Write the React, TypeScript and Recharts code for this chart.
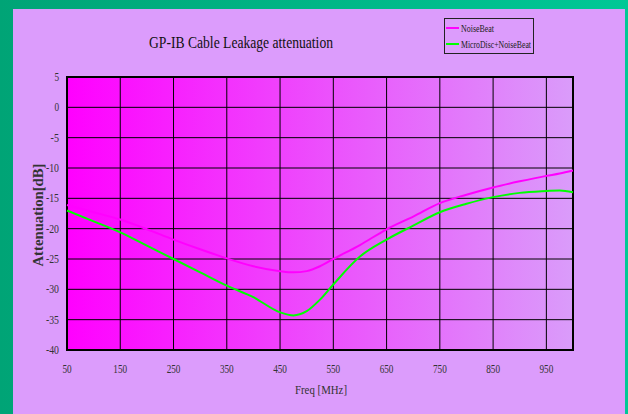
import React from 'react';
import { LineChart, Line, XAxis, YAxis, CartesianGrid, ReferenceArea } from 'recharts';

const freqs = [50, 100, 150, 200, 250, 300, 350, 400, 450, 475, 500, 525, 550, 600, 650, 700, 750, 800, 850, 900, 950, 975, 1000];
const noiseBeat = [-16.1, -17.3, -18.5, -20.1, -21.8, -23.4, -24.9, -26.2, -27.0, -27.2, -27.0, -26.2, -25.0, -22.7, -20.1, -18.0, -15.8, -14.4, -13.2, -12.2, -11.3, -10.9, -10.4];
const microDisc = [-17.0, -18.8, -20.6, -22.8, -25.0, -27.2, -29.4, -31.3, -33.8, -34.3, -33.6, -31.7, -29.2, -24.6, -21.8, -19.5, -17.3, -15.9, -14.8, -14.1, -13.8, -13.7, -14.0];
const xTicks = [50, 150, 250, 350, 450, 550, 650, 750, 850, 950];
const yTicks = [5, 0, -5, -10, -15, -20, -25, -30, -35, -40];

const title = 'GP-IB Cable Leakage attenuation';
const xLabel = 'Freq [MHz]';
const yLabel = 'Attenuation[dB]';
const seriesNames = ['NoiseBeat', 'MicroDisc+NoiseBeat'];
const seriesColors = ['#FF00FF', '#00FF00'];

const data = freqs.map((f, i) => ({ f, a: noiseBeat[i], b: microDisc[i] }));

const FONT = '"Liberation Serif", "Times New Roman", serif';

const labelLen = (s: string) => {
  let n = 0;
  for (const c of s) n += c === '-' ? 3.8 : 4.6;
  return n;
};

const XTick = (props: any) => {
  const { x, y, payload } = props;
  const s = String(payload.value);
  return (
    <text x={x} y={369} textAnchor="middle" dominantBaseline="central" fontSize={12} fontFamily={FONT} fill="#333" textLength={labelLen(s)} lengthAdjust="spacingAndGlyphs">{s}</text>
  );
};

const YTick = (props: any) => {
  const { y, payload } = props;
  const s = String(payload.value);
  return (
    <text x={59} y={y} textAnchor="end" dominantBaseline="central" fontSize={12} fontFamily={FONT} fill="#333" textLength={labelLen(s)} lengthAdjust="spacingAndGlyphs">{s}</text>
  );
};

export default function App() {
  return (
    <div style={{ position: 'fixed', left: 0, top: 0, width: 628, height: 414, overflow: 'hidden', background: 'linear-gradient(to right, #00A476, #00C896)', fontFamily: FONT }}>
      <svg width={0} height={0} style={{ position: 'absolute' }}>
        <defs>
          <linearGradient id="plotGrad" x1="0" y1="0" x2="1" y2="0">
            <stop offset="0%" stopColor="#FF00FF" />
            <stop offset="100%" stopColor="#DA9CFA" />
          </linearGradient>
        </defs>
      </svg>
      <div style={{ position: 'absolute', left: 13, top: 9, width: 612, height: 405, background: '#DC9CFC' }} />
      <div style={{ position: 'absolute', left: 0, top: 0 }}>
        <LineChart width={628} height={414} data={data} margin={{ top: 77, right: 55, bottom: 34, left: 0 }}>
          <CartesianGrid fill="url(#plotGrad)" stroke="#000" strokeOpacity={1} strokeWidth={1} fillOpacity={1} />
          <XAxis
            dataKey="f"
            type="number"
            domain={[50, 1000]}
            ticks={xTicks}
            tickLine={false}
            axisLine={false}
            height={30}
            interval={0}
            tick={<XTick />}
          />
          <YAxis
            type="number"
            domain={[-40, 5]}
            ticks={yTicks}
            tickLine={false}
            axisLine={false}
            width={67}
            interval={0}
            tick={<YTick />}
          />
          <ReferenceArea x1={50} x2={1000} y1={-40} y2={5} fill="none" fillOpacity={0} stroke="#000" strokeWidth={2} strokeOpacity={1} />
          <Line type="monotone" dataKey="a" name={seriesNames[0]} stroke={seriesColors[0]} strokeWidth={2} dot={false} isAnimationActive={false} />
          <Line type="monotone" dataKey="b" name={seriesNames[1]} stroke={seriesColors[1]} strokeWidth={2} dot={false} isAnimationActive={false} />
        </LineChart>
      </div>
      <svg style={{ position: 'absolute', left: 0, top: 0 }} width={628} height={414} pointerEvents="none">
        <text x={241} y={42} textAnchor="middle" dominantBaseline="central" fontSize={16} fontFamily={FONT} fill="#111" textLength={184} lengthAdjust="spacingAndGlyphs">{title}</text>
        <text x={321} y={389} textAnchor="middle" dominantBaseline="central" fontSize={13} fontFamily={FONT} fill="#333" textLength={52} lengthAdjust="spacingAndGlyphs">{xLabel}</text>
        <text x={37.5} y={215} transform="rotate(-90, 37.5, 215)" textAnchor="middle" dominantBaseline="central" fontSize={15} fontWeight="bold" fontFamily={FONT} fill="#333" textLength={103} lengthAdjust="spacingAndGlyphs">{yLabel}</text>
        <rect x={444.5} y={18.5} width={89} height={35} fill="none" stroke="#222" strokeWidth={1} />
        <line x1={446} x2={459} y1={28} y2={28} stroke={seriesColors[0]} strokeWidth={2} />
        <text x={461} y={28} dominantBaseline="central" fontSize={10} fontFamily={FONT} fill="#222" textLength={33} lengthAdjust="spacingAndGlyphs">{seriesNames[0]}</text>
        <line x1={446} x2={459} y1={44} y2={44} stroke={seriesColors[1]} strokeWidth={2} />
        <text x={461} y={44} dominantBaseline="central" fontSize={10} fontFamily={FONT} fill="#222" textLength={70} lengthAdjust="spacingAndGlyphs">{seriesNames[1]}</text>
      </svg>
    </div>
  );
}
